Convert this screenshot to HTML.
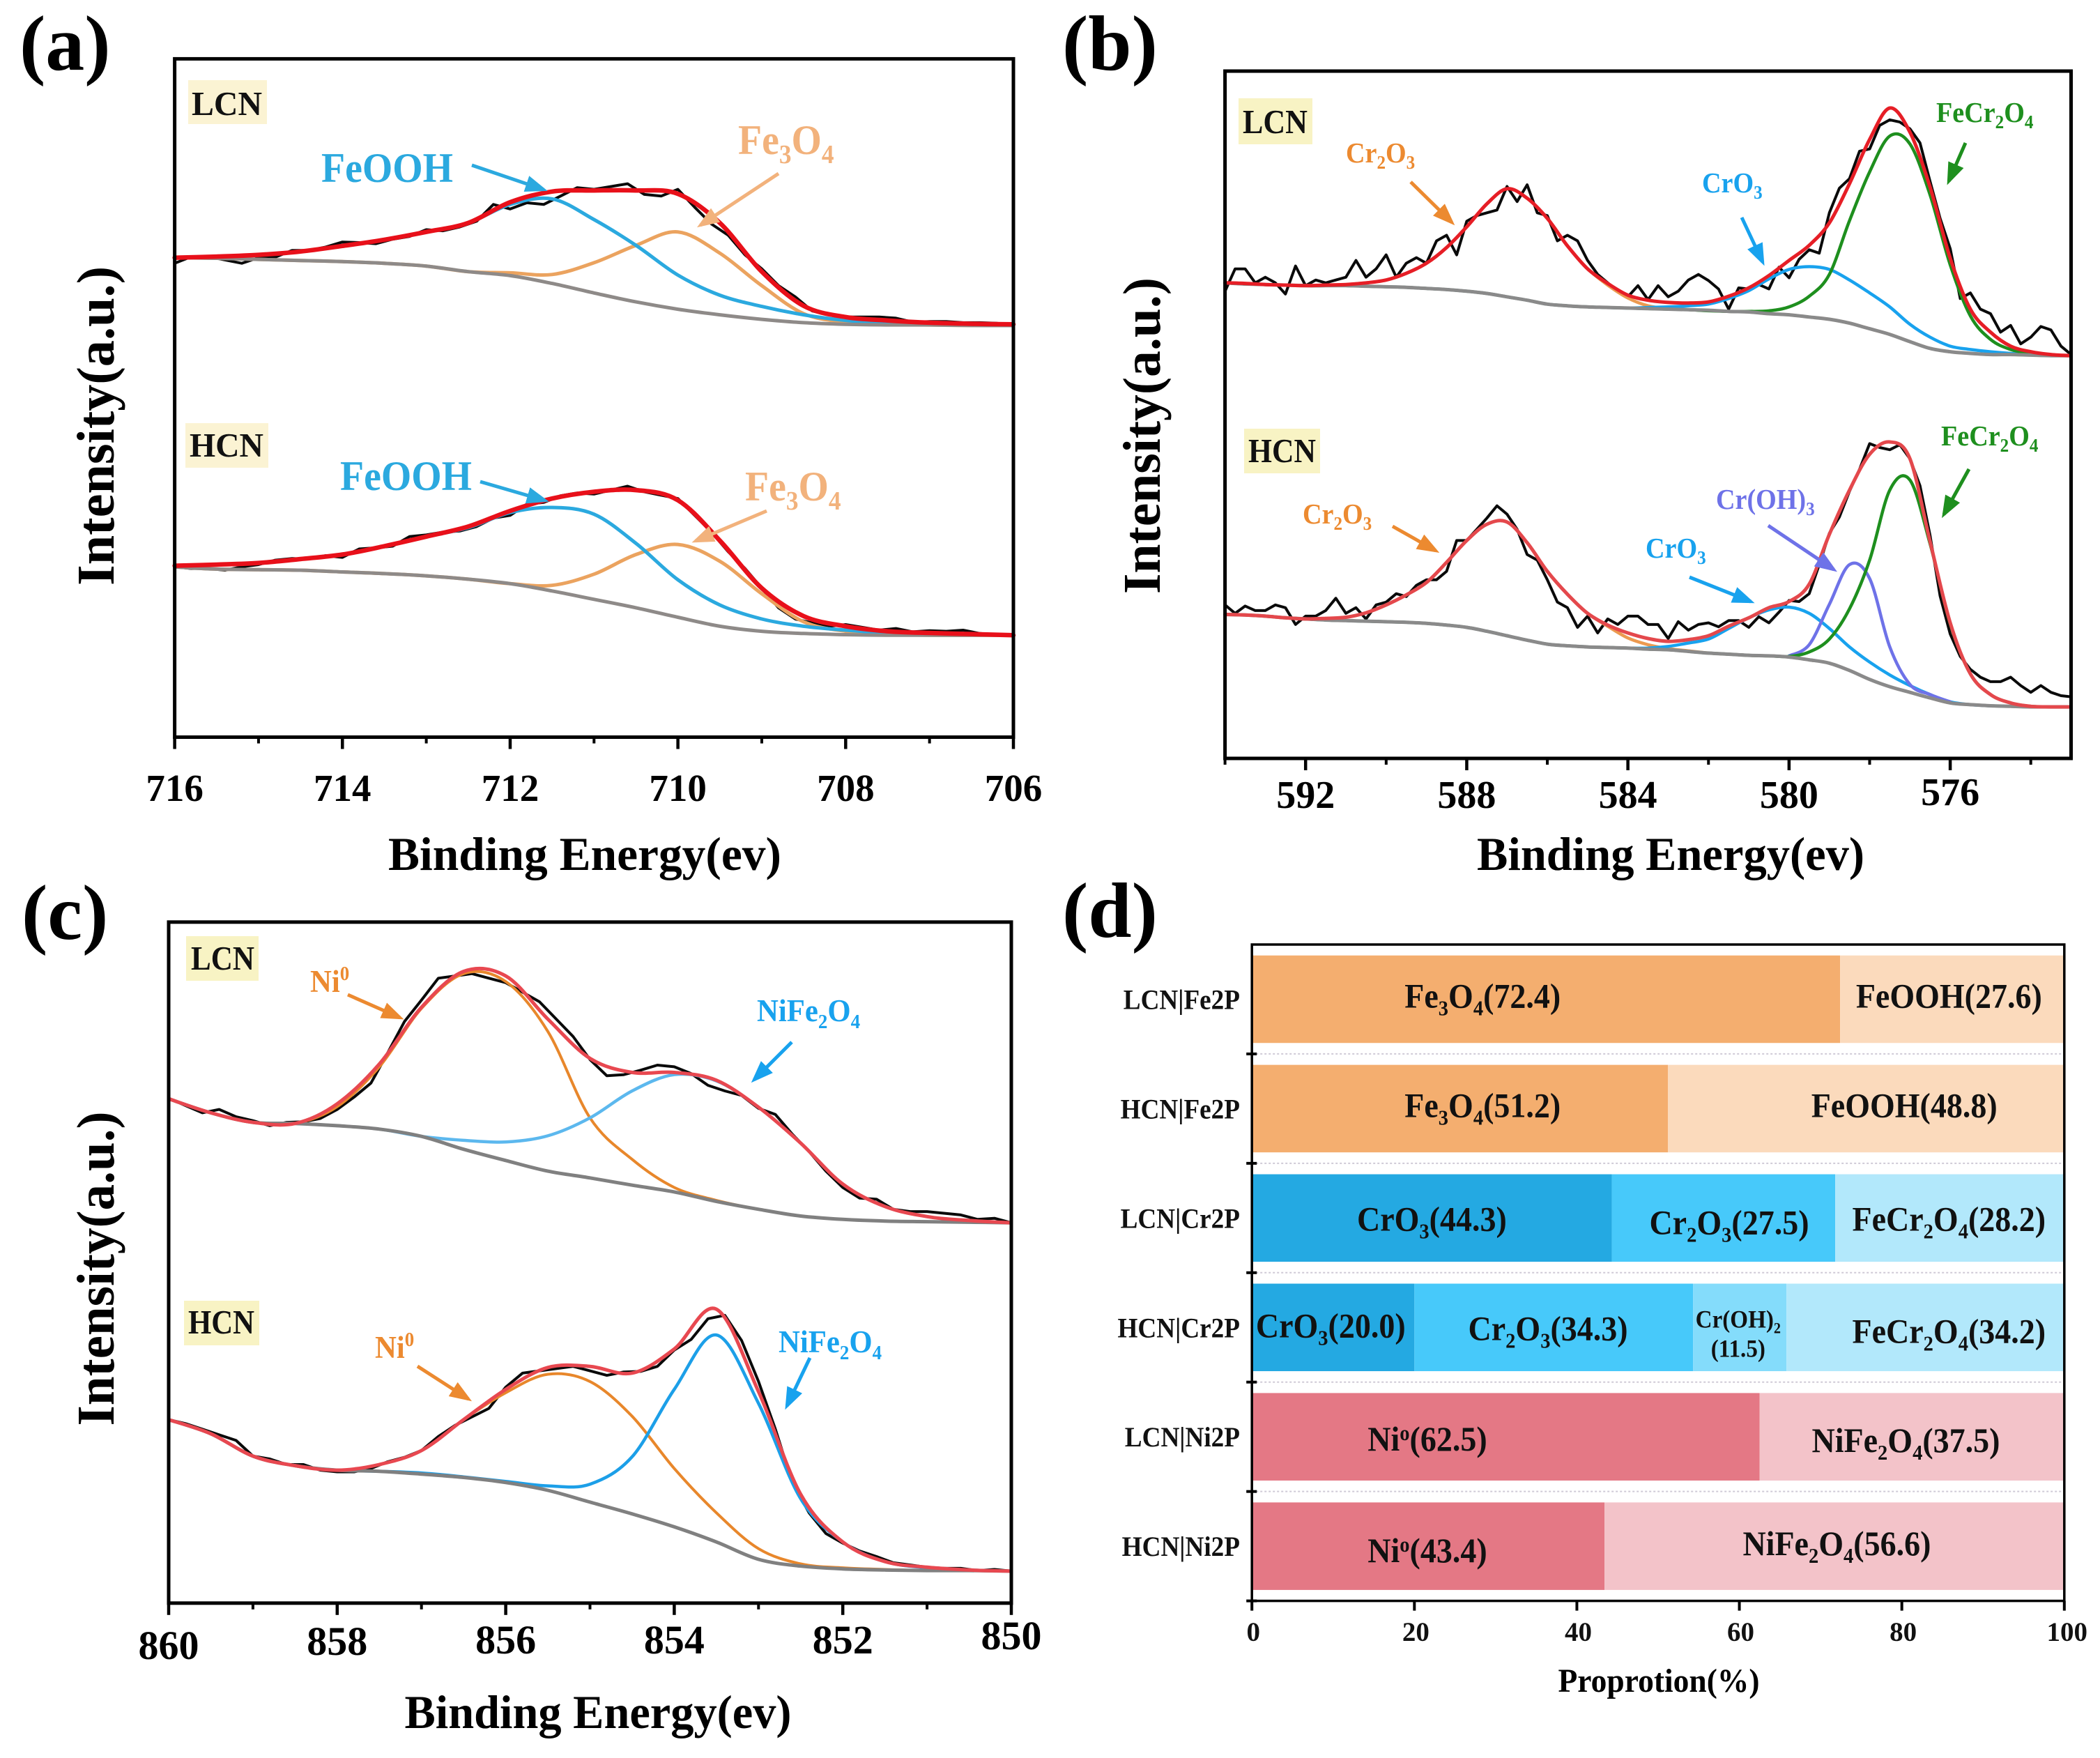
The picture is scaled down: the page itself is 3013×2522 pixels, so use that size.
<!DOCTYPE html>
<html lang="en">
<head>
<meta charset="utf-8">
<title>XPS spectra and proportions</title>
<style>
html,body{margin:0;padding:0;background:#fff;}
svg{display:block;font-family:"Liberation Serif",serif;font-weight:bold;}
</style>
</head>
<body>
<svg id="figure" width="3013" height="2522" viewBox="0 0 3013 2522">
<defs>
<marker id="h-blue" markerUnits="userSpaceOnUse" markerWidth="34" markerHeight="28" refX="26" refY="14" orient="auto"><path d="M0 2L32 14L0 26Z" fill="#2BA9DF"/></marker>
<marker id="h-orange" markerUnits="userSpaceOnUse" markerWidth="34" markerHeight="28" refX="26" refY="14" orient="auto"><path d="M0 2L32 14L0 26Z" fill="#F2B27C"/></marker>
<marker id="h-dorange" markerUnits="userSpaceOnUse" markerWidth="34" markerHeight="28" refX="26" refY="14" orient="auto"><path d="M0 2L32 14L0 26Z" fill="#EC8A30"/></marker>
<marker id="h-sky" markerUnits="userSpaceOnUse" markerWidth="34" markerHeight="28" refX="26" refY="14" orient="auto"><path d="M0 2L32 14L0 26Z" fill="#18A2EE"/></marker>
<marker id="h-green" markerUnits="userSpaceOnUse" markerWidth="34" markerHeight="28" refX="26" refY="14" orient="auto"><path d="M0 2L32 14L0 26Z" fill="#1E8F1E"/></marker>
<marker id="h-purple" markerUnits="userSpaceOnUse" markerWidth="34" markerHeight="28" refX="26" refY="14" orient="auto"><path d="M0 2L32 14L0 26Z" fill="#6E72E8"/></marker>
</defs>
<rect width="3013" height="2522" fill="#fff"/>

<g>
<rect x="270" y="115" width="113" height="63" fill="#FBF3D3"/>
<rect x="266" y="607" width="119" height="64" fill="#FBF3D3"/>
<rect x="1777" y="141" width="106" height="66" fill="#F8F3C4"/>
<rect x="1785" y="615" width="109" height="64" fill="#F8F3C4"/>
<rect x="267" y="1343" width="104" height="64" fill="#F8F3C4"/>
<rect x="264" y="1866" width="108" height="64" fill="#F8F3C4"/>
</g>

<g id="plots"></g>

<g font-size="49" fill="#111">
<text x="275" y="165" textLength="101" lengthAdjust="spacingAndGlyphs">LCN</text>
<text x="272" y="655" textLength="106" lengthAdjust="spacingAndGlyphs">HCN</text>
<text x="1783" y="191" textLength="93" lengthAdjust="spacingAndGlyphs">LCN</text>
<text x="1791" y="663" textLength="97" lengthAdjust="spacingAndGlyphs">HCN</text>
<text x="274" y="1391" textLength="91" lengthAdjust="spacingAndGlyphs">LCN</text>
<text x="270" y="1913" textLength="95" lengthAdjust="spacingAndGlyphs">HCN</text>
</g>

<g font-size="112" fill="#000">
<text x="28" y="100">(a)</text>
<text x="1524" y="100">(b)</text>
<text x="31" y="1347">(c)</text>
<text x="1524" y="1344">(d)</text>
</g>

<g fill="#000">
<text x="839" y="1248" font-size="68" text-anchor="middle" textLength="564" lengthAdjust="spacingAndGlyphs">Binding Energy(ev)</text>
<text x="2397" y="1248" font-size="68" text-anchor="middle" textLength="556" lengthAdjust="spacingAndGlyphs">Binding Energy(ev)</text>
<text x="858" y="2479" font-size="68" text-anchor="middle" textLength="555" lengthAdjust="spacingAndGlyphs">Binding Energy(ev)</text>
<text x="2380" y="2427" font-size="48" text-anchor="middle" textLength="289" lengthAdjust="spacingAndGlyphs">Proprotion(%)</text>
<text transform="rotate(-90 163 611)" x="163" y="611" font-size="76" text-anchor="middle" textLength="458" lengthAdjust="spacingAndGlyphs">Intensity(a.u.)</text>
<text transform="rotate(-90 1664 625)" x="1664" y="625" font-size="76" text-anchor="middle" textLength="454" lengthAdjust="spacingAndGlyphs">Intensity(a.u.)</text>
<text transform="rotate(-90 163 1820)" x="163" y="1820" font-size="76" text-anchor="middle" textLength="451" lengthAdjust="spacingAndGlyphs">Intensity(a.u.)</text>
</g>

<g class="squeeze" font-size="60">
<text x="461" y="261" fill="#2BA9DF">FeOOH</text>
<text x="1059" y="221" fill="#F2B27C">Fe<tspan font-size="38" dy="13">3</tspan><tspan dy="-13">O</tspan><tspan font-size="38" dy="13">4</tspan></text>
<text x="488" y="703" fill="#2BA9DF">FeOOH</text>
<text x="1069" y="718" fill="#F2B27C">Fe<tspan font-size="38" dy="13">3</tspan><tspan dy="-13">O</tspan><tspan font-size="38" dy="13">4</tspan></text>
</g>
<g>
<line x1="677" y1="237" x2="780" y2="272" stroke="#2BA9DF" stroke-width="5" marker-end="url(#h-blue)"/>
<line x1="1117" y1="249" x2="1005" y2="323" stroke="#F2B27C" stroke-width="5" marker-end="url(#h-orange)"/>
<line x1="689" y1="691" x2="782" y2="718" stroke="#2BA9DF" stroke-width="5" marker-end="url(#h-blue)"/>
<line x1="1100" y1="733" x2="998" y2="776" stroke="#F2B27C" stroke-width="5" marker-end="url(#h-orange)"/>
</g>

<g class="squeeze" font-size="41">
<text x="1931" y="233" fill="#EC8A30">Cr<tspan font-size="27" dy="9">2</tspan><tspan dy="-9">O</tspan><tspan font-size="27" dy="9">3</tspan></text>
<text x="2442" y="276" fill="#18A2EE">CrO<tspan font-size="27" dy="9">3</tspan></text>
<text x="2778" y="175" fill="#1E8F1E">FeCr<tspan font-size="27" dy="9">2</tspan><tspan dy="-9">O</tspan><tspan font-size="27" dy="9">4</tspan></text>
<text x="1869" y="751" fill="#EC8A30">Cr<tspan font-size="27" dy="9">2</tspan><tspan dy="-9">O</tspan><tspan font-size="27" dy="9">3</tspan></text>
<text x="2361" y="800" fill="#18A2EE">CrO<tspan font-size="27" dy="9">3</tspan></text>
<text x="2462" y="730" fill="#6E72E8">Cr(OH)<tspan font-size="27" dy="9">3</tspan></text>
<text x="2785" y="639" fill="#1E8F1E">FeCr<tspan font-size="27" dy="9">2</tspan><tspan dy="-9">O</tspan><tspan font-size="27" dy="9">4</tspan></text>
</g>
<g>
<line x1="2024" y1="261" x2="2083" y2="319" stroke="#EC8A30" stroke-width="5" marker-end="url(#h-dorange)"/>
<line x1="2499" y1="312" x2="2529" y2="376" stroke="#18A2EE" stroke-width="5" marker-end="url(#h-sky)"/>
<line x1="2820" y1="205" x2="2796" y2="260" stroke="#1E8F1E" stroke-width="5" marker-end="url(#h-green)"/>
<line x1="1998" y1="755" x2="2060" y2="790" stroke="#EC8A30" stroke-width="5" marker-end="url(#h-dorange)"/>
<line x1="2424" y1="828" x2="2512" y2="863" stroke="#18A2EE" stroke-width="5" marker-end="url(#h-sky)"/>
<line x1="2537" y1="754" x2="2631" y2="817" stroke="#6E72E8" stroke-width="5" marker-end="url(#h-purple)"/>
<line x1="2825" y1="673" x2="2789" y2="738" stroke="#1E8F1E" stroke-width="5" marker-end="url(#h-green)"/>
</g>

<g class="squeeze" font-size="46">
<text x="445" y="1423" fill="#EC8A30">Ni<tspan font-size="29" dy="-17">0</tspan></text>
<text x="1086" y="1465" fill="#18A2EE">NiFe<tspan font-size="29" dy="10">2</tspan><tspan dy="-10">O</tspan><tspan font-size="29" dy="10">4</tspan></text>
<text x="538" y="1948" fill="#EC8A30">Ni<tspan font-size="29" dy="-17">0</tspan></text>
<text x="1117" y="1940" fill="#18A2EE">NiFe<tspan font-size="29" dy="10">2</tspan><tspan dy="-10">O</tspan><tspan font-size="29" dy="10">4</tspan></text>
</g>
<g>
<line x1="499" y1="1427" x2="574" y2="1460" stroke="#EC8A30" stroke-width="5" marker-end="url(#h-dorange)"/>
<line x1="1136" y1="1495" x2="1082" y2="1549" stroke="#18A2EE" stroke-width="5" marker-end="url(#h-sky)"/>
<line x1="599" y1="1960" x2="672" y2="2007" stroke="#EC8A30" stroke-width="5" marker-end="url(#h-dorange)"/>
<line x1="1162" y1="1948" x2="1129" y2="2017" stroke="#18A2EE" stroke-width="5" marker-end="url(#h-sky)"/>
</g>
</svg>

<script>
/* Panel (a) Fe 2p */
const aFitStart = 716;
const aFitStep = 0.5;
const aRawStep = 0.2;
const aTickMajor = [716, 714, 712, 710, 708, 706];
const aTickMinor = [715, 713, 711, 709, 707];
const aLcnRaw = [846,858,858,852,846,856,857,869,869,875,884,883,881,889,894,906,904,911,921,951,943,954,951,966,981,978,983,988,969,966,978,946,916,896,861,836,806,786,761,754,750,750,750,748,741,742,742,740,740,739,736];
const aLcnEnvelope = [856,858,861,867,877,888,902,918,955,974,976,976,970,918,831,770,750,744,740,738,737];
const aLcnBackground = [856,855,853,851,849,846,841,831,824,810,793,777,764,754,746,740,737,736,736,735,735];
const aLcnFe3O4 = [856,855,853,851,849,846,841,831,829,826,847,878,902,864,806,756,741,737,736,735,735];
const aLcnFeOOH = [856,858,861,867,877,888,902,918,951,961,924,878,825,789,769,754,744,739,737,736,735];
const aHcnRaw = [304,301,301,298,304,308,316,319,318,324,321,336,338,341,358,361,366,368,376,391,396,416,419,431,436,434,441,448,438,432,426,396,366,331,301,266,231,211,204,198,201,196,191,194,188,190,189,191,185,183,182];
const aHcnEnvelope = [306,308,311,318,326,341,358,376,404,426,438,441,423,351,266,216,198,189,186,184,182];
const aHcnBackground = [304,300,299,298,295,292,288,282,274,261,246,231,214,198,189,185,183,182,182,182,182];
const aHcnFe3O4 = [304,300,299,298,295,292,288,282,274,271,291,326,344,314,256,206,189,184,182,182,182];
const aHcnFeOOH = [306,308,311,318,326,341,358,374,401,410,398,346,281,236,211,198,191,186,184,183,182];

/* Panel (b) Cr 2p */
const bFitStart = 594;
const bFitStep = 0.5;
const bRawStep = 0.25;
const bTickMajor = [592, 588, 584, 580, 576];
const bTickMinor = [594, 590, 586, 582, 578, 574];
const bLcnRaw = [834,874,874,849,859,849,829,879,844,854,849,854,859,889,859,874,899,859,884,894,884,924,934,899,959,969,974,979,1021,994,1024,974,969,924,934,924,889,864,849,834,824,844,819,844,824,834,854,864,853,838,802,840,838,846,838,877,858,891,908,902,974,1018,1035,1084,1088,1130,1140,1136,1124,1099,1030,964,910,821,831,802,794,761,773,740,752,771,765,736,721];
const bLcnEnvelope = [849,848,846,845,844,845,846,849,854,866,884,912,949,990,1017,1000,964,915,874,848,827,818,814,813,815,825,840,862,889,916,956,1026,1105,1161,1118,1020,893,802,761,736,726,721,719];
const bLcnBackground = [849,847,846,845,844,844,844,843,842,841,839,837,834,830,824,818,811,808,806,805,804,803,802,801,800,798,797,794,792,788,784,777,767,757,744,732,726,723,721,721,720,719,719];
const bLcnCr2O3 = [849,848,846,845,844,845,846,849,854,866,884,912,949,990,1017,1000,964,915,874,845,822,808,803,801,800,798,797,794,792,788,784,777,767,757,744,732,726,723,721,721,720,719,719];
const bLcnCrO3 = [849,847,846,845,844,844,844,843,842,841,839,837,834,830,824,818,811,808,806,805,804,805,806,808,811,821,835,856,873,878,873,854,831,806,775,752,736,730,726,723,721,720,719];
const bLcnFeCr2O4 = [849,847,846,845,844,844,844,843,842,841,839,837,834,830,824,818,811,808,806,805,804,803,802,801,799,798,798,799,806,825,864,960,1047,1111,1097,1006,881,790,748,730,723,720,719];
const bHcnRaw = [274,259,272,264,264,274,269,239,254,254,264,286,259,269,249,274,279,294,289,309,319,319,334,389,389,409,429,451,436,409,364,354,319,279,269,234,254,224,249,239,254,254,239,239,214,244,229,239,242,235,246,246,234,253,242,261,282,280,294,346,402,431,477,516,562,555,551,560,535,487,398,290,222,182,159,145,137,137,145,130,118,130,118,112,110];
const bHcnEnvelope = [257,256,254,251,249,250,252,260,274,292,314,350,389,418,422,385,334,293,259,238,224,214,209,212,219,236,251,269,280,311,400,479,543,565,535,387,242,151,114,99,93,92,92];
const bHcnBackground = [257,256,254,251,249,247,246,245,244,243,241,238,234,227,219,211,204,201,199,198,197,195,194,191,188,186,184,183,181,176,170,157,141,128,118,108,99,96,94,93,92,92,92];
const bHcnCr2O3 = [257,256,254,251,249,250,252,260,274,292,314,350,389,418,422,385,334,293,259,236,215,203,196,192,188,186,184,183,181,176,170,157,141,128,118,108,99,96,94,93,92,92,92];
const bHcnCrO3 = [257,256,254,251,249,247,246,245,244,243,241,238,234,227,219,211,204,201,199,198,197,197,200,206,213,232,251,265,270,259,232,199,172,149,130,114,101,96,94,93,92,92,92];
const bHcnFeCr2O4 = [257,256,254,251,249,247,246,245,244,243,241,238,234,227,219,211,204,201,199,198,197,195,194,191,188,186,184,183,182,190,213,267,354,479,497,383,240,151,114,99,93,92,92];
const bHcnCrOH3Start = 580;
const bHcnCrOH3Step = 0.5;
const bHcnCrOH3 = [183,203,275,346,321,199,132,114,101];

/* Panel (c) Ni 2p */
const cFitStart = 860;
const cFitStep = 0.5;
const cRawStep = 0.2;
const cTickMajor = [860, 858, 856, 854, 852, 850];
const cTickMinor = [859, 857, 855, 853, 851];
const cLcnRaw = [900,887,874,880,867,860,851,857,858,864,880,902,927,981,1037,1075,1114,1118,1122,1114,1106,1089,1072,1041,1010,969,940,942,950,959,956,944,923,913,905,882,871,836,805,770,741,722,720,702,698,698,695,692,684,686,678];
const cLcnEnvelope = [899,874,857,855,890,961,1062,1126,1118,1041,971,946,946,932,884,820,747,707,689,682,678];
const cLcnBackground = [899,874,857,855,851,845,832,809,789,770,758,745,733,716,702,690,684,681,680,679,678];
const cLcnNi0 = [899,874,857,855,885,956,1060,1122,1108,1019,865,791,741,718,702,690,684,681,680,679,678];
const cLcnNiFe2O4 = [899,874,857,855,851,845,832,825,822,833,865,913,942,931,884,820,747,707,689,682,678];
const cHcnRaw = [327,320,310,300,290,262,257,247,247,237,234,234,240,252,260,272,297,317,332,347,385,410,414,418,422,414,406,412,413,422,451,470,507,513,468,395,310,215,161,124,107,93,83,72,68,64,62,62,58,60,57];
const cHcnEnvelope = [327,302,262,245,237,247,272,327,381,420,422,410,453,524,377,194,109,74,64,59,57];
const cHcnBackground = [327,302,262,245,237,235,230,224,215,201,180,159,136,109,78,66,61,59,58,58,57];
const cHcnNi0 = [327,302,262,245,237,247,272,327,375,408,395,333,240,161,97,70,63,60,58,58,57];
const cHcnNiFe2O4 = [327,302,262,245,237,235,232,225,217,209,212,261,381,478,356,186,109,74,63,59,57];

/* Panel (d) proportions */
const dCategories = ['LCN|Fe2P','HCN|Fe2P','LCN|Cr2P','HCN|Cr2P','LCN|Ni2P','HCN|Ni2P'];
const dValues = [[72.4,27.6],[51.2,48.8],[44.3,27.5,28.2],[20.0,34.3,11.5,34.2],[62.5,37.5],[43.4,56.6]];
const dSpecies = [['Fe_3O_4','FeOOH'],['Fe_3O_4','FeOOH'],['CrO_3','Cr_2O_3','FeCr_2O_4'],['CrO_3','Cr_2O_3','Cr(OH)_2','FeCr_2O_4'],['Ni^o','NiFe_2O_4'],['Ni^o','NiFe_2O_4']];
const dTickLabels = [0,20,40,60,80,100];
const dSegmentFills = [['#F4AE6F','#FBDABC'],['#F4AE6F','#FBDABC'],['#24A9E2','#47C9FA','#B2E8FB'],['#24A9E2','#47C9FA','#84DCFB','#B2E8FB'],['#E47885','#F3C3C9'],['#E47885','#F3C3C9']];
const dLabelShift = [[-7.8,-0.4],[2.8,4.7],[0,0.7,-0.1],[-0.3,-0.7,-0.2,2.9],[-9.65,-0.75],[-0.1,0.3]];
const dLabelDrop = [[12,12],[12,12],[18,23,18],[14,18,0,22],[20,22],[23,13]];

const svg = document.getElementById('figure');
const plots = document.getElementById('plots');

function make(tag, parent, attrs) {
  const el = document.createElementNS(svg.namespaceURI, tag);
  for (const k in attrs) el.setAttribute(k, attrs[k]);
  parent.appendChild(el);
  return el;
}

function linear(d0, d1, r0, r1) {
  return function (v) { return r0 + (v - d0) * (r1 - r0) / (d1 - d0); };
}

function squeeze(el, sx) {
  const px = el.getAttribute('x'), py = el.getAttribute('y');
  el.removeAttribute('x');
  el.removeAttribute('y');
  el.setAttribute('transform', 'translate(' + px + ' ' + py + ') scale(' + sx + ' 1)');
}

function curveD(pts, smooth) {
  let d = 'M' + pts[0][0].toFixed(1) + ' ' + pts[0][1].toFixed(1);
  for (let i = 0; i < pts.length - 1; i++) {
    const p1 = pts[i], p2 = pts[i + 1];
    if (!smooth) {
      d += 'L' + p2[0].toFixed(1) + ' ' + p2[1].toFixed(1);
      continue;
    }
    const p0 = pts[Math.max(0, i - 1)], p3 = pts[Math.min(pts.length - 1, i + 2)];
    const c1x = p1[0] + (p2[0] - p0[0]) / 6, c1y = p1[1] + (p2[1] - p0[1]) / 6;
    const c2x = p2[0] - (p3[0] - p1[0]) / 6, c2y = p2[1] - (p3[1] - p1[1]) / 6;
    d += 'C' + c1x.toFixed(1) + ' ' + c1y.toFixed(1) + ' ' + c2x.toFixed(1) + ' ' + c2y.toFixed(1) + ' ' + p2[0].toFixed(1) + ' ' + p2[1].toFixed(1);
  }
  return d;
}

function drawSeries(parent, name, x, y, values, start, step, color, width, smooth) {
  const pts = values.map(function (v, i) { return [x(start - i * step), y(v)]; });
  const path = make('path', parent, { d: curveD(pts, smooth), fill: 'none', stroke: color, 'stroke-width': width, 'stroke-linejoin': 'round', 'stroke-linecap': 'round' });
  
  
}

function drawFrame(parent, name, left, top, right, bottom, width) {
  const frame = make('rect', parent, { x: left, y: top, width: right - left, height: bottom - top, fill: 'none', stroke: '#000', 'stroke-width': width });
  
  
}

function drawXAxis(parent, panel, x, bottom, major, minor, labelY, fontSize, nudge) {
  major.forEach(function (t) {
    const tick = make('line', parent, { x1: x(t), x2: x(t), y1: bottom, y2: bottom + 17, stroke: '#000', 'stroke-width': 4.5 });
    
    
    const label = make('text', parent, { x: x(t), y: labelY + (nudge[t] || 0), 'text-anchor': 'middle', 'font-size': fontSize, fill: '#000' });
    label.textContent = String(t);
    
    
  });
  minor.forEach(function (t) {
    const tick = make('line', parent, { x1: x(t), x2: x(t), y1: bottom, y2: bottom + 9, stroke: '#000', 'stroke-width': 4 });
    
    
  });
}

/* Panel a */
(function () {
  const left = 250.6, right = 1454, top = 84.4, bottom = 1057.5;
  const x = linear(716, 706, left, right);
  const y = linear(0, 1211, bottom, top);
  const g = make('g', plots, {});
  
  
  const blue = '#2BA9DF', orange = '#EBA35F', gray = '#8E8A88', red = '#E8101A', black = '#0A0A0A';
  drawSeries(g, 'a-lcn-raw-spectrum', x, y, aLcnRaw, aFitStart, aRawStep, black, 4, false);
  drawSeries(g, 'a-lcn-fe3o4-peak', x, y, aLcnFe3O4, aFitStart, aFitStep, orange, 5, true);
  drawSeries(g, 'a-lcn-feooh-peak', x, y, aLcnFeOOH, aFitStart, aFitStep, blue, 5, true);
  drawSeries(g, 'a-lcn-background', x, y, aLcnBackground, aFitStart, aFitStep, gray, 5, true);
  drawSeries(g, 'a-lcn-envelope', x, y, aLcnEnvelope, aFitStart, aFitStep, red, 6.5, true);
  drawSeries(g, 'a-hcn-raw-spectrum', x, y, aHcnRaw, aFitStart, aRawStep, black, 4, false);
  drawSeries(g, 'a-hcn-fe3o4-peak', x, y, aHcnFe3O4, aFitStart, aFitStep, orange, 5, true);
  drawSeries(g, 'a-hcn-feooh-peak', x, y, aHcnFeOOH, aFitStart, aFitStep, blue, 5, true);
  drawSeries(g, 'a-hcn-background', x, y, aHcnBackground, aFitStart, aFitStep, gray, 5, true);
  drawSeries(g, 'a-hcn-envelope', x, y, aHcnEnvelope, aFitStart, aFitStep, red, 6.5, true);
  drawFrame(g, 'a-axes-frame', left, top, right, bottom, 5);
  drawXAxis(g, 'a', x, bottom, aTickMajor, aTickMinor, 1149, 55, {});
})();

/* Panel b */
(function () {
  const left = 1757.6, right = 2971.5, top = 102, bottom = 1088;
  const x = linear(594, 573, left, right);
  const y = linear(0, 1227, bottom, top);
  const g = make('g', plots, {});
  
  
  const blue = '#18A2EE', orange = '#EC9A50', green = '#1E8F1E', purple = '#6E72E8', gray = '#8A8A8A', red = '#E61E26', red2 = '#E4484C', black = '#0A0A0A';
  drawSeries(g, 'b-lcn-raw-spectrum', x, y, bLcnRaw, bFitStart, bRawStep, black, 4, false);
  drawSeries(g, 'b-lcn-cr2o3-peak', x, y, bLcnCr2O3, bFitStart, bFitStep, orange, 4.5, true);
  drawSeries(g, 'b-lcn-cro3-peak', x, y, bLcnCrO3, bFitStart, bFitStep, blue, 4.5, true);
  drawSeries(g, 'b-lcn-fecr2o4-peak', x, y, bLcnFeCr2O4, bFitStart, bFitStep, green, 4.5, true);
  drawSeries(g, 'b-lcn-background', x, y, bLcnBackground, bFitStart, bFitStep, gray, 5, true);
  drawSeries(g, 'b-lcn-envelope', x, y, bLcnEnvelope, bFitStart, bFitStep, red, 5, true);
  drawSeries(g, 'b-hcn-raw-spectrum', x, y, bHcnRaw, bFitStart, bRawStep, black, 4, false);
  drawSeries(g, 'b-hcn-cr2o3-peak', x, y, bHcnCr2O3, bFitStart, bFitStep, orange, 4.5, true);
  drawSeries(g, 'b-hcn-cro3-peak', x, y, bHcnCrO3, bFitStart, bFitStep, blue, 4.5, true);
  drawSeries(g, 'b-hcn-croh3-peak', x, y, bHcnCrOH3, bHcnCrOH3Start, bHcnCrOH3Step, purple, 4.5, true);
  drawSeries(g, 'b-hcn-fecr2o4-peak', x, y, bHcnFeCr2O4, bFitStart, bFitStep, green, 4.5, true);
  drawSeries(g, 'b-hcn-background', x, y, bHcnBackground, bFitStart, bFitStep, gray, 5, true);
  drawSeries(g, 'b-hcn-envelope', x, y, bHcnEnvelope, bFitStart, bFitStep, red2, 5, true);
  drawFrame(g, 'b-axes-frame', left, top, right, bottom, 5);
  drawXAxis(g, 'b', x, bottom, bTickMajor, bTickMinor, 1159, 56, {592: 0, 576: -4});
})();

/* Panel c */
(function () {
  const left = 242, right = 1451, top = 1322.8, bottom = 2299.8;
  const x = linear(860, 850, left, right);
  const y = linear(0, 1214, bottom, top);
  const g = make('g', plots, {});
  
  
  const blue = '#1C9FE8', blue2 = '#5CB8EE', orange = '#E8872B', gray = '#808080', red = '#E84850', black = '#0A0A0A';
  drawSeries(g, 'c-lcn-raw-spectrum', x, y, cLcnRaw, cFitStart, cRawStep, black, 4, false);
  drawSeries(g, 'c-lcn-ni0-peak', x, y, cLcnNi0, cFitStart, cFitStep, orange, 4, true);
  drawSeries(g, 'c-lcn-nife2o4-peak', x, y, cLcnNiFe2O4, cFitStart, cFitStep, blue2, 4.5, true);
  drawSeries(g, 'c-lcn-background', x, y, cLcnBackground, cFitStart, cFitStep, gray, 5, true);
  drawSeries(g, 'c-lcn-envelope', x, y, cLcnEnvelope, cFitStart, cFitStep, red, 5, true);
  drawSeries(g, 'c-hcn-raw-spectrum', x, y, cHcnRaw, cFitStart, cRawStep, black, 4, false);
  drawSeries(g, 'c-hcn-ni0-peak', x, y, cHcnNi0, cFitStart, cFitStep, orange, 4, true);
  drawSeries(g, 'c-hcn-nife2o4-peak', x, y, cHcnNiFe2O4, cFitStart, cFitStep, blue, 4.5, true);
  drawSeries(g, 'c-hcn-background', x, y, cHcnBackground, cFitStart, cFitStep, gray, 5, true);
  drawSeries(g, 'c-hcn-envelope', x, y, cHcnEnvelope, cFitStart, cFitStep, red, 5, true);
  drawFrame(g, 'c-axes-frame', left, top, right, bottom, 5);
  drawXAxis(g, 'c', x, bottom, cTickMajor, cTickMinor, 2372, 58, {860: 8, 858: 2, 850: -6});
})();

/* rich text: _n subscript, ^n superscript */
function richText(el, str, size) {
  const sub = Math.round(size * 0.62);
  let pending = 0, buffer = '';
  function flush() {
    if (!buffer) return;
    const span = make('tspan', el, {});
    if (pending) span.setAttribute('dy', pending);
    span.textContent = buffer;
    pending = 0;
    buffer = '';
  }
  for (let i = 0; i < str.length; i++) {
    const c = str[i];
    if (c === '_' || c === '^') {
      flush();
      const shift = c === '_' ? Math.round(size * 0.22) : -Math.round(size * 0.3);
      const s = make('tspan', el, { 'font-size': sub, dy: pending + shift });
      s.textContent = str[++i];
      pending = -shift;
    } else {
      buffer += c;
    }
  }
  flush();
}

/* Panel d */
(function () {
  const left = 1796.2, right = 2961.8, top = 1355, bottom = 2296.6;
  const x = linear(0, 100, left, right);
  const band = (bottom - top) / dCategories.length;
  const barHeight = band * 0.8;
  const g = make('g', plots, {});
  
  

  dCategories.forEach(function (cat, r) {
    const cy = top + band * (r + 0.5);
    let cum = 0;
    dValues[r].forEach(function (v, s) {
      const rect = make('rect', g, { x: x(cum), y: cy - barHeight / 2, width: x(cum + v) - x(cum), height: barHeight, fill: dSegmentFills[r][s] });
      
      
      cum += v;
    });
    const rowLabel = make('text', g, { x: 1779, y: cy + 14, 'text-anchor': 'end', 'font-size': 40, fill: '#111' });
    rowLabel.textContent = cat;
    
    
    squeeze(rowLabel, 0.93);
    const sepY = top + band * (r + 1);
    if (r < dCategories.length - 1) {
      const sep = make('line', g, { x1: left, x2: right, y1: sepY, y2: sepY, stroke: '#CFCAD6', 'stroke-width': 2, 'stroke-dasharray': '3 3' });
      
      
    }
    const yTick = make('line', g, { x1: left - 8, x2: left + 7, y1: sepY, y2: sepY, stroke: '#000', 'stroke-width': 4 });
    
    
  });

  dCategories.forEach(function (cat, r) {
    const cy = top + band * (r + 0.5);
    let cum = 0;
    dValues[r].forEach(function (v, s) {
      const species = dSpecies[r][s];
      const cx = x(cum + v / 2 + dLabelShift[r][s]);
      const printed = '(' + v.toFixed(1) + ')';
      if (species === 'Cr(OH)_2') {
        const line1 = make('text', g, { x: cx, y: cy, 'text-anchor': 'middle', 'font-size': 36, fill: '#111' });
        richText(line1, species, 36);
        
        
        squeeze(line1, 0.92);
        const line2 = make('text', g, { x: cx, y: cy + 42, 'text-anchor': 'middle', 'font-size': 36, fill: '#111' });
        line2.textContent = printed;
        
        
        squeeze(line2, 0.92);
      } else {
        const label = make('text', g, { x: cx, y: cy + dLabelDrop[r][s], 'text-anchor': 'middle', 'font-size': 50, fill: '#111' });
        richText(label, species + printed, 50);
        
        
        squeeze(label, 0.92);
      }
      cum += v;
    });
  });

  drawFrame(g, 'd-axes-frame', left, top, right, bottom, 3.5);
  dTickLabels.forEach(function (t) {
    const tick = make('line', g, { x1: x(t), x2: x(t), y1: bottom, y2: bottom + 14, stroke: '#000', 'stroke-width': 4 });
    
    
    const label = make('text', g, { x: x(t) + (t === 100 ? 4 : 2), y: 2354, 'text-anchor': 'middle', 'font-size': 39, fill: '#111' });
    label.textContent = String(t);
    
    
  });
})();

document.querySelectorAll('.squeeze text').forEach(function (t) { squeeze(t, 0.93); });
</script>
</body>
</html>
